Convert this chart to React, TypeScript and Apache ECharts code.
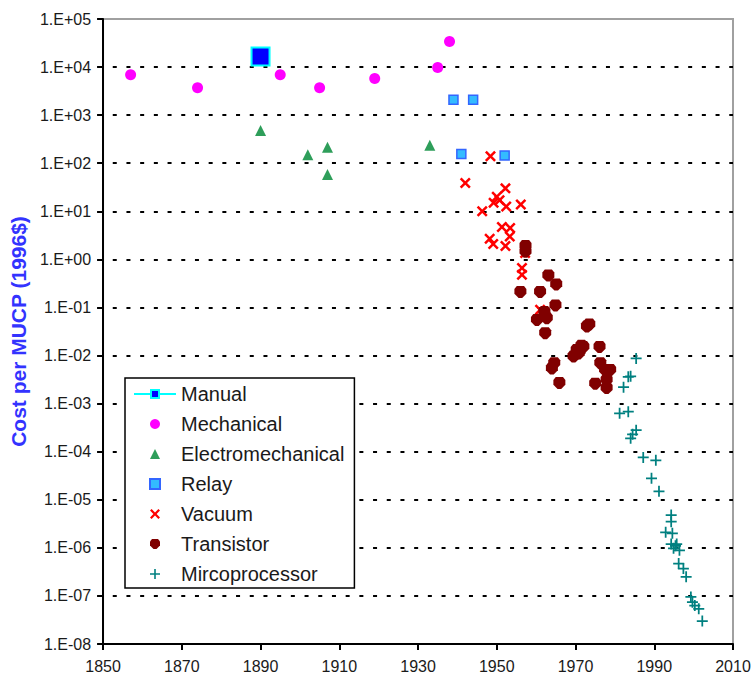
import React, { useEffect, useRef } from "react";
import * as echarts from "echarts";

// ---- data (year, cost per MUCP in 1996 $) ----
const xTicks = [1850, 1870, 1890, 1910, 1930, 1950, 1970, 1990, 2010];

const manualYears = [1890];
const manualCosts = [16500];

const mechanicalYears = [1857, 1874, 1895, 1905, 1919, 1935, 1938];
const mechanicalCosts = [6900, 3700, 6900, 3700, 5800, 9800, 34000];

const electroYears = [1890, 1902, 1907, 1907, 1933];
const electroCosts = [480, 150, 215, 58, 237];

const relayYears = [1939, 1944, 1941, 1952];
const relayCosts = [2100, 2100, 155, 145];

const vacuumYears = [1942, 1948.4, 1952.2, 1946.3, 1949.2, 1950.7, 1952.4, 1956.1, 1950, 1951.3, 1953.4, 1953.3, 1948.2, 1949.1, 1952.2, 1956.4, 1956.4, 1957.2, 1961];
const vacuumCosts = [39, 140, 30, 10, 15, 17, 12.6, 13.8, 20, 4.7, 4.5, 3.0, 2.7, 2.1, 1.9, 0.66, 0.48, 1.35, 0.09];

const transistorYears = [1957.3, 1957.3, 1956, 1961, 1963.1, 1965.1, 1964.9, 1962.1, 1960.2, 1962.7, 1962.3, 1973.5, 1972.9, 1970.3, 1969.5, 1972, 1970.8, 1971, 1971.5, 1964.6, 1964, 1965.9, 1976.1, 1976.3, 1977.5, 1978.8, 1977.9, 1975, 1977.9];
const transistorCosts = [1.9, 1.45, 0.21, 0.21, 0.46, 0.30, 0.11, 0.08, 0.055, 0.06, 0.029, 0.044, 0.040, 0.013, 0.0095, 0.015, 0.011, 0.012, 0.016, 0.0069, 0.0054, 0.0027, 0.015, 0.0069, 0.005, 0.005, 0.0031, 0.0026, 0.0021];

const microYears = [1985.4, 1983.4, 1984, 1982.2, 1981.2, 1983.4, 1985.4, 1984, 1984.5, 1987.2, 1990.4, 1989.3, 1991.2, 1994.3, 1994.3, 1992.9, 1994.6, 1994.3, 1995.4, 1994.9, 1996.4, 1995.7, 1996.2, 1997.4, 1998.1, 1999.3, 1999.7, 2001.3, 2002.2, 2000.3];
const microCosts = [0.0087, 0.0036, 0.0037, 0.0022, 6.3e-4, 6.8e-4, 2.8e-4, 1.9e-4, 2.3e-4, 7.6e-5, 6.6e-5, 2.8e-5, 1.5e-5, 4.8e-6, 3.5e-6, 2.1e-6, 2.0e-6, 1.2e-6, 1.1e-6, 9.8e-7, 8.9e-7, 1.2e-6, 4.7e-7, 3.7e-7, 2.5e-7, 9.5e-8, 7.4e-8, 5.4e-8, 3.0e-8, 6.3e-8];

const seriesNames = ["Manual", "Mechanical", "Electromechanical", "Relay", "Vacuum", "Transistor", "Mircoprocessor"];

const FONT = "'Liberation Sans', Arial, Helvetica, sans-serif";

const X_PATH = "path://M0,1.6L1.6,0L5,3.4L8.4,0L10,1.6L6.6,5L10,8.4L8.4,10L5,6.6L1.6,10L0,8.4L3.4,5Z";
const PLUS_PATH = "path://M4.2,0H5.8V4.2H10V5.8H5.8V10H4.2V5.8H0V4.2H4.2Z";
const BLOB_PATH = "path://M2,0L8,0L10,2.5L10,6.5L6.5,10L3.5,10L0,6.5L0,2.5Z";
const TRI_PATH = "path://M5,0L10,10L0,10Z";
const SQ_PATH = "path://M0,0H10V10H0Z";

function pairs(xs: number[], ys: number[]) {
  return xs.map((x, i) => [x, ys[i]]);
}

function expLabel(v: number) {
  const e = Math.round(Math.log10(v));
  const s = e >= 0 ? "+" : "-";
  return "1.E" + s + String(Math.abs(e)).padStart(2, "0");
}

export default function App() {
  const ref = useRef<HTMLDivElement>(null);
  useEffect(() => {
    document.body.style.margin = "0";
    const chart = echarts.init(ref.current!, null, { renderer: "svg" });
    const axisLineStyle = { color: "#000", width: 2 };
    chart.setOption({
      animation: false,
      backgroundColor: "#fff",
      textStyle: { fontFamily: FONT },
      grid: {
        left: 102,
        right: 21,
        top: 19,
        bottom: 31,
        show: true,
        borderColor: "#a0a0a0",
        borderWidth: 2,
        backgroundColor: "transparent",
      },
      xAxis: {
        type: "value",
        min: xTicks[0],
        max: xTicks[xTicks.length - 1],
        interval: 20,
        axisLine: { show: true, onZero: false, lineStyle: axisLineStyle },
        axisTick: { show: true, length: 6, lineStyle: axisLineStyle },
        axisLabel: {
          fontSize: 16,
          color: "#1a1a1a",
          fontFamily: FONT,
          margin: 14,
          formatter: (v: number) => String(v),
        },
        splitLine: { show: false },
      },
      yAxis: {
        type: "log",
        logBase: 10,
        min: 1e-8,
        max: 1e5,
        interval: 1,
        splitNumber: 13,
        axisLine: { show: true, onZero: false, lineStyle: axisLineStyle },
        axisTick: { show: true, length: 6, lineStyle: axisLineStyle },
        axisLabel: {
          fontSize: 16,
          color: "#1a1a1a",
          fontFamily: FONT,
          margin: 12,
          formatter: (v: number) => expLabel(v),
        },
        splitLine: {
          show: true,
          showMinLine: false,
          showMaxLine: false,
          lineStyle: { color: "#000", width: 2, type: [4, 9.7], dashOffset: 4 },
        },
        name: "Cost per MUCP (1996$)",
        nameLocation: "middle",
        nameGap: 67,
        nameTextStyle: { color: "#3333ff", fontSize: 21, fontWeight: "bold", fontFamily: FONT },
      },
      legend: {
        show: true,
        left: 125,
        top: 378,
        orient: "vertical",
        backgroundColor: "#fff",
        borderColor: "#000",
        borderWidth: 1.5,
        padding: [6, 10, 4, 8],
        itemWidth: 42,
        itemHeight: 10,
        itemGap: 10,
        symbolKeepAspect: true,
        textStyle: { fontSize: 20, color: "#1a1a1a", fontFamily: FONT },
        data: seriesNames,
      },
      series: [
        {
          name: seriesNames[0],
          type: "line",
          data: pairs(manualYears, manualCosts),
          symbol: SQ_PATH,
          symbolSize: 18,
          itemStyle: { color: "#0000ff", borderColor: "#00ffff", borderWidth: 2 },
          lineStyle: { color: "#00ffff", width: 2 },
          z: 3,
        },
        {
          name: seriesNames[1],
          type: "scatter",
          data: pairs(mechanicalYears, mechanicalCosts),
          symbol: "circle",
          symbolSize: 11,
          itemStyle: { color: "#ff00ff", opacity: 1 },
        },
        {
          name: seriesNames[2],
          type: "scatter",
          data: pairs(electroYears, electroCosts),
          symbol: TRI_PATH,
          symbolSize: 11,
          itemStyle: { color: "#2e9e5a", opacity: 1 },
        },
        {
          name: seriesNames[3],
          type: "scatter",
          data: pairs(relayYears, relayCosts),
          symbol: SQ_PATH,
          symbolSize: 9,
          itemStyle: { color: "#33bbff", borderColor: "#3366ff", borderWidth: 1.5, opacity: 1 },
        },
        {
          name: seriesNames[4],
          type: "scatter",
          data: pairs(vacuumYears, vacuumCosts),
          symbol: X_PATH,
          symbolSize: 11,
          itemStyle: { color: "#ff0000", opacity: 1 },
        },
        {
          name: seriesNames[5],
          type: "scatter",
          data: pairs(transistorYears, transistorCosts),
          symbol: BLOB_PATH,
          symbolSize: 12,
          itemStyle: { color: "#800000", opacity: 1 },
        },
        {
          name: seriesNames[6],
          type: "scatter",
          data: pairs(microYears, microCosts),
          symbol: PLUS_PATH,
          symbolSize: 11,
          itemStyle: { color: "#008080", opacity: 1 },
        },
      ],
    });
    return () => chart.dispose();
  }, []);
  return <div ref={ref} style={{ width: 754, height: 675 }} />;
}
